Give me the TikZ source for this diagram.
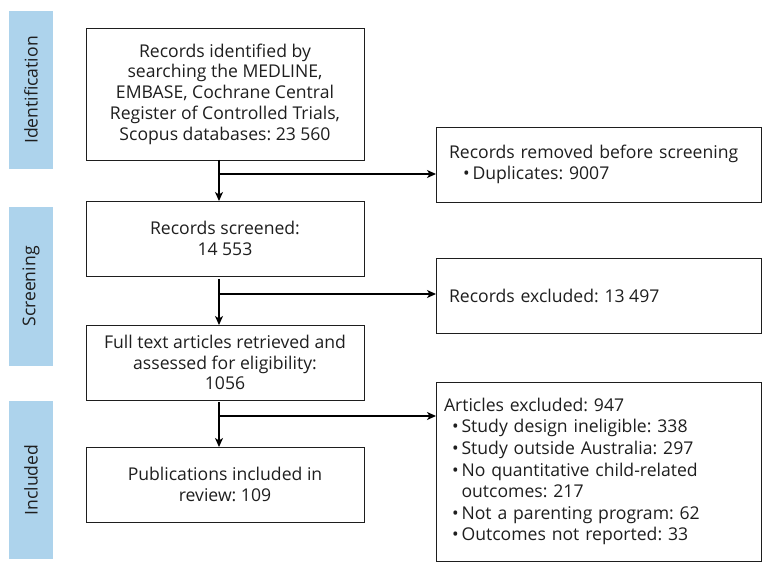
\documentclass[tikz,border=0pt]{standalone}
\usepackage{fontspec}
\setmainfont{Open Sans}
\usetikzlibrary{arrows.meta,calc}
\definecolor{bandblue}{RGB}{173,211,236}
\definecolor{ink}{RGB}{30,30,30}
\newcommand\boxfont{\fontsize{17.6}{20.8}\selectfont\frenchspacing}
\newcommand\sidefont{\fontsize{17.6}{21.6}\selectfont\frenchspacing}
\newcommand\ksep{\hspace{0.25em}}
\begin{document}
\begin{tikzpicture}[x=1pt,y=-1pt,
  band/.style={fill=bandblue, draw=none, rotate=90, inner sep=0pt, outer sep=0pt,
    minimum height=44pt, font=\boxfont, text=ink},
  lbox/.style={draw=ink, line width=0.9pt, inner sep=0pt, outer sep=0pt,
    align=center, font=\boxfont, text=ink, minimum width=278pt},
  rbox/.style={draw=ink, line width=0.9pt, inner ysep=0pt, outer sep=0pt,
    align=left, font=\sidefont, text=ink},
  conn/.style={draw=black, line width=1.4pt},
  arr/.style={conn, -{Stealth[length=9pt,width=8pt,inset=2.5pt]}}
]
\useasboundingbox (0,0) rectangle (771,567);

% phase bands
\node[band, minimum width=158pt] (bandI) at (31,90) {Identification};
\node[band, minimum width=159pt] (bandS) at (31,286.5) {Screening};
\node[band, minimum width=158pt] (bandN) at (31,480) {Included};

% main column
\node[lbox, minimum height=132pt] (b1) at (225,94) {Records identified by\\searching the MEDLINE,\\EMBASE, Cochrane Central\\Register of Controlled Trials,\\Scopus databases: 23\ksep560};
\node[lbox, minimum height=75pt] (b2) at (225,238.5) {Records screened:\\14\ksep553};
\node[lbox, minimum height=75pt] (b3) at (225,362.5) {Full text articles retrieved and\\assessed for eligibility:\\1056};
\node[lbox, minimum height=75pt] (b4) at (225,484.5) {Publications included in\\review: 109};

% side column
\node[rbox, inner xsep=13pt, text width=299pt, minimum height=75pt] (r1) at (598.5,164.5)
  {Records removed before screening\\\hspace*{14pt}\textbullet\,Duplicates: 9007};
\node[rbox, inner xsep=13pt, text width=299pt, minimum height=75pt] (r2) at (598.5,295.5)
  {Records excluded: 13\ksep497};
\node[rbox, inner xsep=8pt, text width=309pt, minimum height=179pt] (r3) at (598.5,471.5)
  {Articles excluded: 947\\
   \hspace*{8pt}\textbullet\,Study design ineligible: 338\\
   \hspace*{8pt}\textbullet\,Study outside Australia: 297\\
   \hspace*{8pt}\textbullet\,No quantitative child-related\\
   \hspace*{8pt}\phantom{\textbullet\,}outcomes: 217\\
   \hspace*{8pt}\textbullet\,Not a parenting program: 62\\
   \hspace*{8pt}\textbullet\,Outcomes not reported: 33};

% junctions
\coordinate (j1) at ($(b1.south)+(-6,14)$);
\coordinate (j2) at ($(b2.south)+(-6,18)$);
\coordinate (j3) at ($(b3.south)+(-6,16)$);

% vertical arrows
\draw[arr] ($(b1.south)+(-6,0)$) -- ($(b2.north)+(-6,0)$);
\draw[arr] ($(b2.south)+(-6,3)$) -- ($(b3.north)+(-6,0)$);
\draw[arr] ($(b3.south)+(-6,2)$) -- ($(b4.north)+(-6,0)$);

% side arrows
\draw[arr] (j1) -- (j1 -| r1.west);
\draw[arr] (j2) -- (j2 -| r2.west);
\draw[arr] (j3) -- (j3 -| r3.west);
\end{tikzpicture}
\end{document}
